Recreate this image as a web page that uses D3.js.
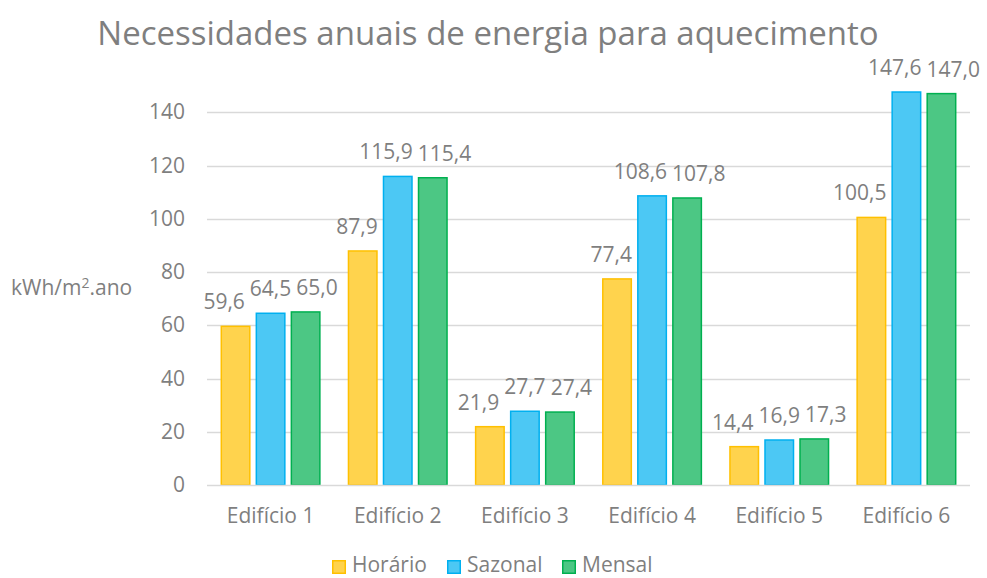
<!DOCTYPE html>
<html>
<head>
<meta charset="utf-8">
<script src="https://cdn.jsdelivr.net/npm/d3@7"></script>
<style>
  body { margin: 0; background: #fff; }
  text { font-family: "Open Sans", sans-serif; fill: #7f7f7f; }
</style>
</head>
<body>
<div id="chart"></div>
<script>
// chart data
const categories = ["Edifício 1", "Edifício 2", "Edifício 3", "Edifício 4", "Edifício 5", "Edifício 6"];
const seriesNames = ["Horário", "Sazonal", "Mensal"];
const horario = [59.6, 87.9, 21.9, 77.4, 14.4, 100.5];
const sazonal = [64.5, 115.9, 27.7, 108.6, 16.9, 147.6];
const mensal = [65.0, 115.4, 27.4, 107.8, 17.3, 147.0];
const yTicks = [0, 20, 40, 60, 80, 100, 120, 140];

const values = [horario, sazonal, mensal];
const strokeColors = ["#FFC000", "#00B0F0", "#00B050"];
const fillColors = ["#FFD34D", "#4CC8F4", "#4CC784"];

const W = 987, H = 578;
const margin = { top: 59, right: 17, bottom: 93, left: 207 };
const width = W - margin.left - margin.right;
const height = H - margin.top - margin.bottom;

const svg = d3.select("#chart").append("svg")
  .attr("width", W)
  .attr("height", H);

// title
svg.append("text")
  .attr("x", 488)
  .attr("y", 45)
  .attr("text-anchor", "middle")
  .style("font-size", "33px")
  .text("Necessidades anuais de energia para aquecimento");

const g = svg.append("g")
  .attr("transform", `translate(${margin.left},${margin.top})`);

const x0 = d3.scaleBand()
  .domain(categories)
  .range([0, width])
  .paddingInner(0.213)
  .paddingOuter(0.1065);

const x1 = d3.scaleBand()
  .domain(seriesNames)
  .range([0, x0.bandwidth()])
  .padding(0.143)
  .paddingOuter(0);

const y = d3.scaleLinear()
  .domain([0, 160])
  .range([height, 0]);

// gridlines
g.append("g")
  .selectAll("line")
  .data(yTicks.slice(1))
  .enter().append("line")
  .attr("x1", 0)
  .attr("x2", width)
  .attr("y1", d => Math.round(y(d)) + 0.5)
  .attr("y2", d => Math.round(y(d)) + 0.5)
  .attr("stroke", "#d9d9d9")
  .attr("stroke-width", 1.5);

// y axis labels
const yAxis = g.append("g")
  .call(d3.axisLeft(y).tickValues(yTicks).tickSize(0).tickPadding(22));
yAxis.select(".domain").remove();
yAxis.selectAll("text")
  .style("font-size", "21px")
  .attr("fill", "#7f7f7f")
  .style("font-family", "'Open Sans', sans-serif");

// bars
const labelNodes = categories.map(() => []);
seriesNames.forEach((s, i) => {
  const grp = g.append("g");
  grp.selectAll("rect")
    .data(values[i])
    .enter().append("rect")
    .attr("x", (d, j) => x0(categories[j]) + x1(s) + 0.75)
    .attr("width", x1.bandwidth() - 1.5)
    .attr("y", d => y(d))
    .attr("height", d => height - y(d))
    .attr("fill", fillColors[i])
    .attr("stroke", strokeColors[i])
    .attr("stroke-width", 1.5);

  grp.selectAll("text")
    .data(values[i])
    .enter().append("text")
    .attr("x", (d, j) => x0(categories[j]) + x1(s) + x1.bandwidth() / 2)
    .attr("y", d => y(d) - 17)
    .attr("text-anchor", "middle")
    .style("font-size", "21px")
    .text(d => d.toFixed(1).replace(".", ","))
    .each(function(d, j) { labelNodes[j].push(this); });
});

// push overlapping data labels apart inside each group,
// and keep a label off the taller bar next to it
labelNodes.forEach((nodes, j) => {
  const items = nodes.map((n, i) => ({
    node: n,
    x: +n.getAttribute("x"),
    y: +n.getAttribute("y"),
    w: n.getComputedTextLength()
  }));
  for (let k = 0; k < 60; k++) {
    for (let i = 0; i < items.length - 1; i++) {
      const a = items[i], b = items[i + 1];
      if (Math.abs(a.y - b.y) > 22) continue;
      const overlap = (a.x + a.w / 2 + 5) - (b.x - b.w / 2);
      if (overlap > 0) {
        a.x -= overlap / 2;
        b.x += overlap / 2;
      }
    }
  }
  items.forEach((it, i) => {
    if (i < items.length - 1) {
      const nextTop = y(values[i + 1][j]);
      const nextLeft = x0(categories[j]) + x1(seriesNames[i + 1]);
      if (nextTop < it.y && it.x + it.w / 2 > nextLeft - 5) {
        it.x = nextLeft - 5 - it.w / 2;
      }
    }
    it.node.setAttribute("x", it.x);
  });
});

// x axis
g.append("line")
  .attr("x1", 0)
  .attr("x2", width)
  .attr("y1", height + 0.5)
  .attr("y2", height + 0.5)
  .attr("stroke", "#d9d9d9")
  .attr("stroke-width", 1.5);

const xAxis = g.append("g")
  .attr("transform", `translate(0,${height})`)
  .call(d3.axisBottom(x0).tickSize(0).tickPadding(23));
xAxis.select(".domain").remove();
xAxis.selectAll("text")
  .style("font-size", "21px")
  .attr("fill", "#7f7f7f")
  .style("font-family", "'Open Sans', sans-serif");

// y axis title
const yTitle = svg.append("text")
  .attr("x", 11)
  .attr("y", 295)
  .style("font-size", "21px");
yTitle.append("tspan").text("kWh/m");
yTitle.append("tspan").attr("dy", -7).style("font-size", "14px").text("2");
yTitle.append("tspan").attr("dy", 7).text(".ano");

// legend
const legendX = [332, 447, 562];
const legend = svg.append("g");
seriesNames.forEach((s, i) => {
  legend.append("rect")
    .attr("x", legendX[i] + 0.75)
    .attr("y", 560.75)
    .attr("width", 12.5)
    .attr("height", 12.5)
    .attr("fill", fillColors[i])
    .attr("stroke", strokeColors[i])
    .attr("stroke-width", 1.5);
  legend.append("text")
    .attr("x", legendX[i] + 20)
    .attr("y", 572)
    .style("font-size", "21px")
    .text(s);
});
</script>
</body>
</html>
